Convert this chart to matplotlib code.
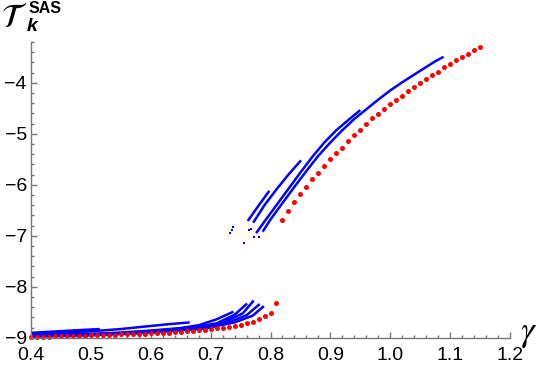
import matplotlib
matplotlib.use("Agg")
import matplotlib.pyplot as plt
from matplotlib.ticker import MultipleLocator

plt.rcParams['font.family'] = ['Liberation Sans', 'DejaVu Sans']
plt.rcParams['mathtext.fontset'] = 'stix'

# red dots: lower branch and upper branch
red_lo_x = [0.40, 0.41, 0.42, 0.43, 0.44, 0.45, 0.46, 0.47, 0.48, 0.49, 0.50,
            0.51, 0.52, 0.53, 0.54, 0.55, 0.56, 0.57, 0.58, 0.59, 0.60, 0.61,
            0.62, 0.63, 0.64, 0.65, 0.66, 0.67, 0.68, 0.69, 0.70, 0.71, 0.72,
            0.73, 0.74, 0.75, 0.76, 0.77, 0.78, 0.79, 0.80, 0.81]
red_lo_y = [-8.985, -8.983, -8.981, -8.979, -8.976, -8.973, -8.970, -8.967,
            -8.963, -8.960, -8.956, -8.952, -8.948, -8.944, -8.940, -8.936,
            -8.932, -8.928, -8.924, -8.920, -8.915, -8.912, -8.905, -8.900,
            -8.890, -8.880, -8.875, -8.862, -8.855, -8.840, -8.830, -8.815,
            -8.800, -8.785, -8.765, -8.745, -8.710, -8.690, -8.630, -8.580,
            -8.510, -8.325]
red_hi_x = [0.82, 0.83, 0.84, 0.85, 0.86, 0.87, 0.88, 0.89, 0.90, 0.91, 0.92,
            0.93, 0.94, 0.95, 0.96, 0.97, 0.98, 0.99, 1.00, 1.01, 1.02, 1.03,
            1.04, 1.05, 1.06, 1.07, 1.08, 1.09, 1.10, 1.11, 1.12, 1.13, 1.14,
            1.15]
red_hi_y = [-6.70, -6.52, -6.345, -6.19, -6.05, -5.89, -5.76, -5.64, -5.50,
            -5.38, -5.27, -5.15, -5.03, -4.92, -4.815, -4.70, -4.62, -4.52,
            -4.42, -4.345, -4.25, -4.16, -4.09, -4.01, -3.93, -3.855, -3.78,
            -3.70, -3.64, -3.56, -3.50, -3.44, -3.365, -3.305]

# blue branches (upper group)
blue_a_x = [0.762, 0.780, 0.798]
blue_a_y = [-6.71, -6.41, -6.12]
blue_b_x = [0.771, 0.790, 0.810, 0.830, 0.851]
blue_b_y = [-6.745, -6.40, -6.09, -5.80, -5.52]
blue_c_x = [0.776, 0.790, 0.810, 0.830, 0.850, 0.870, 0.890, 0.910, 0.930, 0.950]
blue_c_y = [-6.95, -6.72, -6.40, -6.08, -5.76, -5.45, -5.17, -4.93, -4.73, -4.535]
blue_d_x = [0.787, 0.800, 0.820, 0.840, 0.860, 0.880, 0.900, 0.920, 0.940,
            0.960, 0.980, 1.000, 1.020, 1.040, 1.060, 1.075, 1.089]
blue_d_y = [-6.92, -6.68, -6.36, -6.04, -5.73, -5.43, -5.17, -4.93, -4.71,
            -4.52, -4.33, -4.15, -3.99, -3.84, -3.69, -3.58, -3.49]
blue_pts_x = [0.732, 0.735, 0.737, 0.756, 0.764, 0.767, 0.772, 0.781]
blue_pts_y = [-6.95, -6.89, -6.82, -7.14, -6.89, -6.86, -7.03, -7.02]

# blue branches (lower group)
blue_e_x = [0.40, 0.43, 0.46, 0.49, 0.515]
blue_e_y = [-8.905, -8.885, -8.865, -8.845, -8.83]
blue_f_x = [0.40, 0.45, 0.50, 0.55, 0.60, 0.63, 0.665]
blue_f_y = [-8.935, -8.91, -8.875, -8.83, -8.77, -8.735, -8.70]
blue_g_x = [0.40, 0.50, 0.55, 0.60, 0.65, 0.68, 0.71, 0.738]
blue_g_y = [-8.945, -8.925, -8.90, -8.86, -8.81, -8.755, -8.64, -8.49]
blue_h_x = [0.40, 0.50, 0.60, 0.66, 0.71, 0.74, 0.761]
blue_h_y = [-8.955, -8.935, -8.88, -8.82, -8.72, -8.55, -8.33]
blue_i_x = [0.40, 0.50, 0.60, 0.67, 0.72, 0.754, 0.772]
blue_i_y = [-8.965, -8.94, -8.89, -8.82, -8.71, -8.52, -8.27]
blue_j_x = [0.40, 0.50, 0.60, 0.68, 0.73, 0.76, 0.782]
blue_j_y = [-8.97, -8.945, -8.895, -8.82, -8.70, -8.56, -8.34]
blue_k_x = [0.40, 0.50, 0.60, 0.69, 0.74, 0.77, 0.789]
blue_k_y = [-8.978, -8.952, -8.90, -8.82, -8.70, -8.57, -8.38]

fig = plt.figure(figsize=(5.4, 3.67), dpi=100)
ax = fig.add_axes([31 / 540, 1 - 337.7 / 367, 479 / 540, (337.7 - 42) / 367])

blue_lines = [(blue_a_x, blue_a_y), (blue_b_x, blue_b_y), (blue_c_x, blue_c_y),
              (blue_d_x, blue_d_y), (blue_e_x, blue_e_y), (blue_f_x, blue_f_y),
              (blue_g_x, blue_g_y), (blue_h_x, blue_h_y), (blue_i_x, blue_i_y),
              (blue_j_x, blue_j_y), (blue_k_x, blue_k_y)]
for bx, by in blue_lines:
    ax.plot(bx, by, color='#0000ff', lw=1.8, solid_capstyle='butt', clip_on=False)
ax.plot(blue_pts_x, blue_pts_y, 's', color='#0000ff', ms=2.0, mew=0, clip_on=False)

ax.plot(red_lo_x, red_lo_y, 'o', color='#ff0000', ms=3.6, mew=0, clip_on=False)
ax.plot(red_hi_x, red_hi_y, 'o', color='#ff0000', ms=3.6, mew=0, clip_on=False)

ax.set_xlim(0.4, 1.2)
ax.set_ylim(-9, -3.2)
for s in ['top', 'right']:
    ax.spines[s].set_visible(False)
for s in ['left', 'bottom']:
    ax.spines[s].set_color('#777777')
    ax.spines[s].set_linewidth(1.0)

ax.xaxis.set_major_locator(MultipleLocator(0.1))
ax.xaxis.set_minor_locator(MultipleLocator(0.02))
ax.yaxis.set_major_locator(MultipleLocator(1))
ax.yaxis.set_minor_locator(MultipleLocator(0.2))
ax.xaxis.set_major_formatter(plt.FuncFormatter(lambda v, p: f"{v:.1f}"))
ax.yaxis.set_major_formatter(plt.FuncFormatter(lambda v, p: f"\u2212{abs(v):.0f}"))
ax.tick_params(which='both', direction='in', color='#777777', width=1.0,
               labelsize=14, labelcolor='black')
ax.tick_params(which='major', length=4.5)
ax.tick_params(which='minor', length=2.5)
ax.tick_params(axis='x', pad=6.5)
ax.tick_params(axis='y', pad=3)

# axis labels
fig.text(1 / 540, 1 - 27 / 367, r'$\mathcal{T}$', fontsize=24, va='baseline', ha='left')
fig.text(27 / 540, 1 - 31 / 367, 'k', fontsize=14, fontweight='bold',
         fontstyle='italic', va='baseline', ha='left')
fig.text(29 / 540, 1 - 13 / 367, 'SAS', fontsize=11.5, fontweight='bold',
         va='baseline', ha='left')
fig.text(520 / 540, 1 - 341 / 367, r'$\gamma$', fontsize=25, va='baseline', ha='left')

fig.savefig('out.png', dpi=100)
